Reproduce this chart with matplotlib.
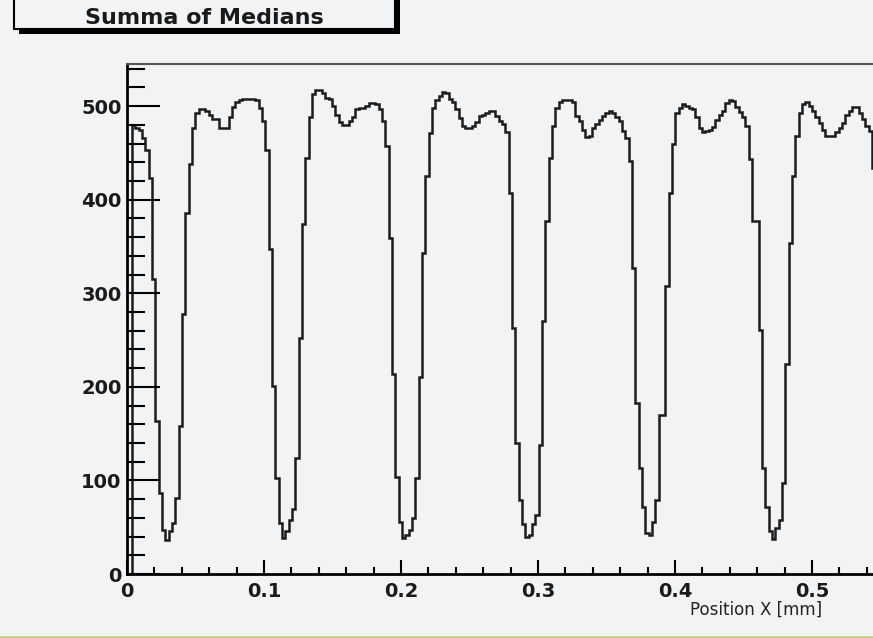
import numpy as np
import matplotlib
matplotlib.use('Agg')
import matplotlib.pyplot as plt
from matplotlib.patches import Rectangle
from matplotlib.lines import Line2D
from matplotlib.ticker import MultipleLocator


# histogram binning (mm)
bin_start = 0.00365
bin_width = 0.002433

# bin contents, one list per stripe period
medians_p1 = [480, 477, 475, 466, 453, 423, 315, 163, 87, 47, 36, 46, 54, 81, 158, 278, 386, 438,
              477, 493, 497, 497, 495, 491, 486, 486, 477, 477, 477, 488, 499, 504, 506, 508, 508]
medians_p2 = [508, 508, 506, 498, 484, 453, 347, 201, 103, 55, 38, 46, 58, 69, 124, 252, 374, 445, 488,
              513, 517, 517, 514, 509, 508, 500, 491, 483, 480, 480, 484, 488, 497, 498, 498, 500, 503, 503]
medians_p3 = [502, 497, 484, 457, 359, 214, 104, 56, 38, 42, 47, 60, 103, 211, 343, 425, 471, 498, 506,
              511, 515, 514, 508, 504, 497, 487, 479, 477, 477, 479, 483, 489, 491, 493, 495, 495, 489, 484]
medians_p4 = [481, 472, 407, 263, 140, 79, 53, 40, 42, 53, 63, 138, 270, 377, 445, 479, 498, 504, 506,
              506, 506, 504, 489, 484, 475, 467, 468, 477, 481, 485, 489, 493, 495, 493, 488, 484, 473, 466]
medians_p5 = [441, 327, 183, 113, 72, 44, 42, 56, 79, 170, 170, 308, 407, 459, 493, 498, 502, 500, 498,
              497, 488, 477, 472, 473, 475, 478, 485, 491, 495, 503, 506, 505, 499, 494, 488, 479, 443]
medians_p6 = [377, 377, 261, 113, 72, 46, 37, 49, 58, 97, 224, 354, 425, 468, 493, 502, 504, 500, 495,
              488, 482, 475, 468, 468, 468, 472, 477, 482, 491, 495, 499, 499, 493, 486, 479, 473, 434]

medians = medians_p1 + medians_p2 + medians_p3 + medians_p4 + medians_p5 + medians_p6
edges = bin_start + bin_width * np.arange(len(medians) + 1)

title = 'Summa of Medians'
xlabel = 'Position X [mm]'

bg = '#f2f3f5'
W, H = 873, 638

fig = plt.figure(figsize=(W / 100, H / 100), dpi=100, facecolor=bg)

# title box with ROOT-like drop shadow (pixel coords from top-left)
def box(x0, y0, x1, y1, **kw):
    return Rectangle((x0 / W, 1 - y1 / H), (x1 - x0) / W, (y1 - y0) / H,
                     transform=fig.transFigure, **kw)

fig.patches.append(box(19, -20, 400, 34, facecolor='black', edgecolor='none'))
fig.patches.append(box(14, -20, 395, 29, facecolor=bg, edgecolor='black', linewidth=1.5))
fig.text(204 / W, 1 - 18 / H, title, ha='center', va='center',
         fontsize=16, fontweight='bold', family='DejaVu Sans', color='#1a1a1a')

# axes placed where the frame sits in the picture
ax_left, ax_bottom, ax_top = 127, 574, 64
ax = fig.add_axes([ax_left / W, (H - ax_bottom) / H, (W - ax_left) / W, (ax_bottom - ax_top) / H])
ax.set_facecolor(bg)

ax.stairs(medians, edges, baseline=0, color='#1c1c1c', linewidth=1.8)

ax.set_xlim(0, (W - ax_left) / 1370)
ax.set_ylim(0, 545)

ax.xaxis.set_major_locator(MultipleLocator(0.1))
ax.xaxis.set_minor_locator(MultipleLocator(0.02))
ax.yaxis.set_major_locator(MultipleLocator(100))
ax.yaxis.set_minor_locator(MultipleLocator(20))
ax.xaxis.set_major_formatter(lambda v, p: '0' if abs(v) < 1e-9 else f'{v:.1f}')

ax.tick_params(axis='x', which='major', direction='in', length=10, width=1.5, pad=6)
ax.tick_params(axis='x', which='minor', direction='in', length=5, width=1.5)
ax.tick_params(axis='y', which='major', direction='in', length=24, width=1.5, pad=4)
ax.tick_params(axis='y', which='minor', direction='in', length=13, width=1.5)
for lab in ax.get_xticklabels() + ax.get_yticklabels():
    lab.set_fontweight('bold')
    lab.set_fontsize(14)
    lab.set_color('#1a1a1a')

ax.spines['left'].set_linewidth(2)
ax.spines['bottom'].set_linewidth(2)
ax.spines['top'].set_linewidth(1.5)
ax.spines['top'].set_color('#555555')
ax.spines['right'].set_visible(False)

fig.text(822 / W, 1 - 610 / H, xlabel, ha='right', va='center', fontsize=12, color='#222222')

# thin coloured rule at the very bottom of the picture
fig.add_artist(Line2D([0, 1], [1.5 / H, 1.5 / H], transform=fig.transFigure,
                      color='#c8d07a', linewidth=2))

plt.savefig('out.png', dpi=100, facecolor=bg)
